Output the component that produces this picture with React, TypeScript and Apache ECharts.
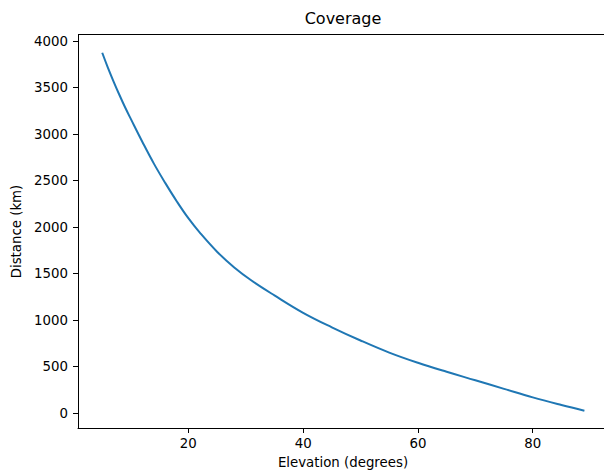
import React, { useEffect, useRef } from "react";
import * as echarts from "echarts";

const elevations = [5, 6, 7, 8, 9, 10, 12, 14, 16, 18, 20, 22, 25, 28, 31, 35, 40, 45, 50, 55, 60, 65, 70, 75, 80, 85, 89];
const distances = [3874, 3712, 3562, 3420, 3285, 3160, 2915, 2682, 2472, 2275, 2095, 1940, 1735, 1565, 1425, 1265, 1078, 922, 780, 650, 540, 443, 352, 260, 168, 86, 25];
const xTicks = [20, 40, 60, 80];
const yTicks = [0, 500, 1000, 1500, 2000, 2500, 3000, 3500, 4000];

const FONT = "DejaVu Sans";

export default function App() {
  const ref = useRef<HTMLDivElement>(null);
  useEffect(() => {
    if (!ref.current) return;
    const chart = echarts.init(ref.current, undefined, { renderer: "svg" });
    const data = elevations.map((e, i) => [e, distances[i]]);
    chart.setOption({
      animation: false,
      backgroundColor: "#ffffff",
      grid: { left: 78, top: 35, width: 530, height: 393, show: false },
      graphic: [
        {
          type: "text",
          x: 343,
          y: 18,
          style: {
            text: "Coverage",
            fill: "#000",
            font: `16px "${FONT}"`,
            textAlign: "center",
            textVerticalAlign: "middle",
          },
        },
        {
          type: "line",
          shape: { x1: 78, y1: 34.5, x2: 620, y2: 34.5 },
          style: { stroke: "#000", lineWidth: 1 },
        },
      ],
      xAxis: {
        type: "value",
        min: 0.78,
        max: 93.11,
        name: "Elevation (degrees)",
        nameLocation: "middle",
        nameGap: 28,
        nameTextStyle: { fontFamily: FONT, fontSize: 13.33, color: "#000" },
        axisLine: { show: true, onZero: false, lineStyle: { color: "#000", width: 1 } },
        axisTick: { show: true, inside: false, length: 5, lineStyle: { color: "#000", width: 1 }, customValues: xTicks },
        axisLabel: { fontFamily: FONT, fontSize: 13.33, color: "#000", margin: 9, customValues: xTicks, formatter: (v: number) => String(v) },
        splitLine: { show: false },
      },
      yAxis: {
        type: "value",
        min: -161,
        max: 4065,
        name: "Distance (km)",
        nameLocation: "middle",
        nameGap: 53,
        nameRotate: 90,
        nameTextStyle: { fontFamily: FONT, fontSize: 13.33, color: "#000" },
        axisLine: { show: true, onZero: false, lineStyle: { color: "#000", width: 1 } },
        axisTick: { show: true, inside: false, length: 5, lineStyle: { color: "#000", width: 1 }, customValues: yTicks },
        axisLabel: { fontFamily: FONT, fontSize: 13.33, color: "#000", margin: 10, customValues: yTicks, formatter: (v: number) => String(v) },
        splitLine: { show: false },
      },
      series: [
        {
          type: "line",
          data,
          showSymbol: false,
          smooth: 0.4,
          lineStyle: { color: "#1f77b4", width: 2 },
          z: 3,
        },
      ],
    });
    return () => chart.dispose();
  }, []);
  return (
    <div style={{ position: "absolute", left: 0, top: 0, width: 604, height: 474, overflow: "hidden", background: "#fff" }}>
      <div ref={ref} style={{ width: 620, height: 474 }} />
    </div>
  );
}
